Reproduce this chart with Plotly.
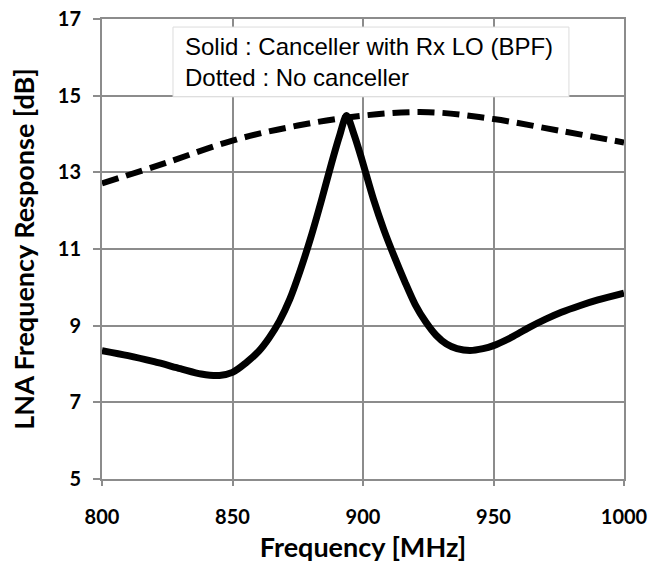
import plotly.graph_objects as go

# solid curve: canceller with Rx LO (BPF)
freq_solid = [800, 810, 820, 830, 838, 845, 850, 855, 860, 864, 868, 872, 876, 880, 884,
              888, 891, 893.7, 896.5, 899.5, 904, 908, 912, 916, 920, 924, 928, 932, 936,
              941, 946, 950, 957, 963, 970, 976, 983, 990, 1000]
gain_solid = [8.35, 8.22, 8.06, 7.88, 7.74, 7.70, 7.78, 8.02, 8.33, 8.68, 9.12, 9.7, 10.45,
              11.3, 12.25, 13.25, 13.95, 14.48, 14.0, 13.35, 12.3, 11.5, 10.8, 10.15, 9.55,
              9.1, 8.75, 8.52, 8.4, 8.35, 8.4, 8.48, 8.7, 8.93, 9.17, 9.35, 9.52, 9.67, 9.85]

# dotted curve: no canceller
freq_dot = [800, 825, 850, 875, 900, 925, 950, 975, 1000]
gain_dot = [12.71, 13.26, 13.83, 14.22, 14.48, 14.57, 14.39, 14.09, 13.78]

x_ticks = [800, 850, 900, 950, 1000]
y_ticks = [5, 7, 9, 11, 13, 15, 17]

grid_col = "#8c8c8c"
tick_font = dict(family="Lato", size=20, color="black", weight="bold")

fig = go.Figure()
fig.add_trace(go.Scatter(x=freq_dot, y=gain_dot, mode="lines",
                         line=dict(color="black", width=6, dash="17px,8px", shape="spline"),
                         showlegend=False))
fig.add_trace(go.Scatter(x=freq_solid, y=gain_solid, mode="lines",
                         line=dict(color="black", width=7, shape="spline", smoothing=0.8),
                         showlegend=False))

# white box behind the note, covering the grid
fig.add_shape(type="rect", xref="x", yref="y", x0=827.2, x1=978.9, y0=14.97, y1=16.79,
              fillcolor="white", line=dict(color="#dcdcdc", width=1), layer="between")
fig.add_annotation(x=831, y=15.89, xref="x", yref="y", xanchor="left", yanchor="middle",
                   text="Solid : Canceller with Rx LO (BPF)<br>Dotted : No canceller",
                   showarrow=False, align="left",
                   font=dict(family="Liberation Sans", size=24, color="black"))

fig.update_layout(
    width=651, height=579,
    margin=dict(l=102, r=27, t=19, b=100),
    plot_bgcolor="white", paper_bgcolor="white",
    xaxis=dict(range=[800, 1000], tickvals=x_ticks, showgrid=True, gridcolor=grid_col,
               gridwidth=2, showline=True, linecolor=grid_col, linewidth=2, mirror=True,
               ticks="outside", ticklen=5, tickcolor=grid_col, tickwidth=2,
               tickfont=tick_font, ticklabelstandoff=14, zeroline=False, automargin=False,
               ticklabeloverflow="allow",
               title=dict(text="Frequency [MHz]", standoff=11,
                          font=dict(family="Lato", size=27, color="black", weight="bold"))),
    yaxis=dict(range=[5, 17], tickvals=y_ticks, showgrid=True, gridcolor=grid_col,
               gridwidth=2, showline=True, linecolor=grid_col, linewidth=2, mirror=True,
               ticks="outside", ticklen=7, tickcolor=grid_col, tickwidth=2,
               tickfont=tick_font, ticklabelstandoff=8, zeroline=False, automargin=False,
               ticklabeloverflow="allow",
               title=dict(text="LNA Frequency Response [dB]", standoff=15,
                          font=dict(family="Lato", size=27, color="black", weight="bold"))),
)

# drop the default 8px page margin so the figure fills the window
fig.write_html("out.html", config={"displayModeBar": False},
               post_script="document.body.style.margin='0';document.body.style.overflow='hidden';")
